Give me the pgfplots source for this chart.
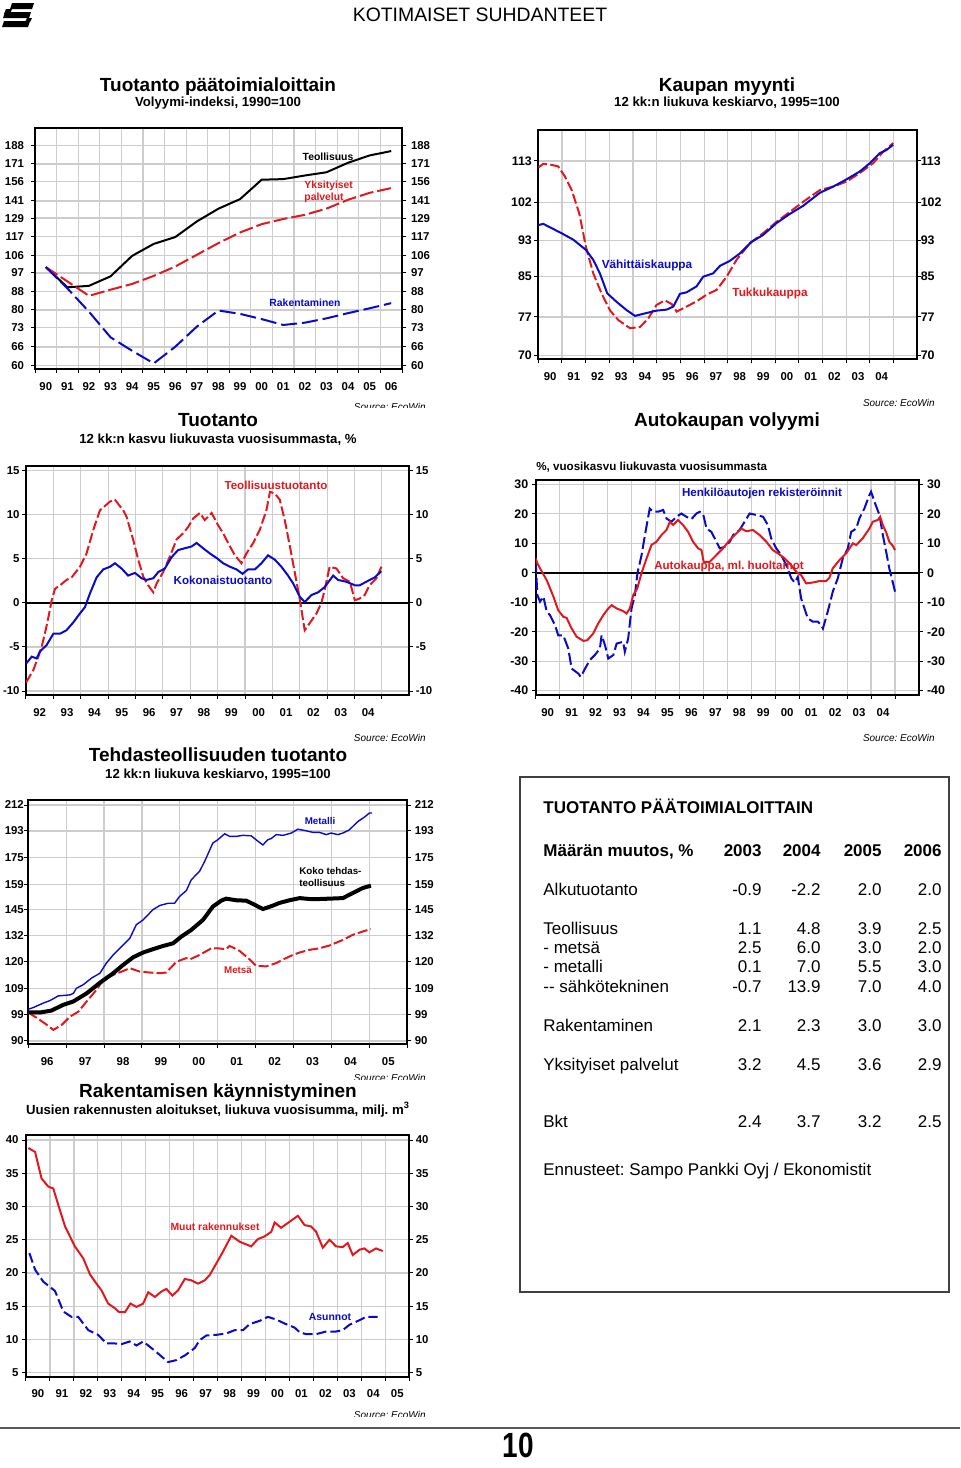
\documentclass[border=0pt]{standalone}
\usepackage{fontspec}
\setmainfont{Liberation Sans}
\usepackage{pgfplots}
\pgfplotsset{compat=1.18}
\frenchspacing
\definecolor{cred}{RGB}{225,25,30}
\definecolor{cblue}{RGB}{10,10,200}
\definecolor{gridc}{RGB}{205,205,205}
\newcommand{\tlab}{\bfseries\fontsize{5.7}{6}\selectfont}
\pgfplotsset{
 base/.style={scale only axis, anchor=south west, /pgf/number format/assume math mode=true,
   tick align=outside, major tick length=2pt, tick style={black, line width=0.5pt},
   ticklabel style={font=\tlab}, minor tick num=0, no markers},
 panel/.style={base, axis line style={line width=1pt}, grid=major,
   major grid style={gridc, line width=0.6pt}, x tick label as interval,
   ytick pos=left, xtick pos=bottom, xticklabel style={yshift=-1pt}},
 rpanel/.style={base, axis x line=none, axis y line*=right, axis line style={draw=none}},
 p1/.style={width=183.5pt, height=120.5pt, at={(17.5pt,-184.5pt)}, xmin=1989.5, xmax=2006.5,
   ymin=58.86, ymax=206.1,
   ytick={60,66,73,80,88,97,106,117,129,141,156,171,188},
   yticklabels={60,66,73,80,88,97,106,117,129,141,156,171,188},
   xtick={1989.5,1990.5,...,2006.5},
   xticklabels={90,91,92,93,94,95,96,97,98,99,00,01,02,03,04,05,06}},
 p2/.style={width=189.5pt, height=114.65pt, at={(269.15pt,-179.65pt)}, xmin=1990, xmax=2006,
   ymin=69.38, ymax=121.95,
   ytick={70,77,85,93,102,113}, yticklabels={70,77,85,93,102,113},
   yticklabel style={font=\bfseries\fontsize{6.2}{7}\selectfont},
   xtick={1990,...,2005}, xticklabels={90,91,92,93,94,95,96,97,98,99,00,01,02,03,04}},
 p3/.style={width=191.65pt, height=114.5pt, at={(13pt,-347.5pt)}, xmin=1992, xmax=2006,
   ymin=-10.45, ymax=15.53, ytick={-10,-5,0,5,10,15}, yticklabels={-10,-5,0,5,10,15},
   xtick={1992,...,2005}, xticklabels={92,93,94,95,96,97,98,99,00,01,02,03,04}},
 p4/.style={width=191.65pt, height=107.5pt, at={(267.85pt,-347.5pt)}, xmin=1990, xmax=2006,
   ymin=-41.46, ymax=31.46, ytick={-40,-30,-20,-10,0,10,20,30}, yticklabels={-40,-30,-20,-10,0,10,20,30},
   yticklabel style={font=\bfseries\fontsize{6.2}{7}\selectfont},
   xtick={1990,...,2005}, xticklabels={90,91,92,93,94,95,96,97,98,99,00,01,02,03,04}},
 p5/.style={width=189.5pt, height=122pt, at={(14.15pt,-522pt)}, xmin=1996, xmax=2006,
   ymin=89.02, ymax=215.9,
   ytick={90,99,109,120,132,145,159,175,193,212}, yticklabels={90,99,109,120,132,145,159,175,193,212},
   xtick={1996,...,2006}, xticklabels={96,97,98,99,00,01,02,03,04,05}},
 p6/.style={width=191.65pt, height=120.85pt, at={(13pt,-688.35pt)}, xmin=1990, xmax=2006,
   ymin=4.4, ymax=40.75, ytick={5,10,15,20,25,30,35,40}, yticklabels={5,10,15,20,25,30,35,40},
   xtick={1990,...,2006}, xticklabels={90,91,92,93,94,95,96,97,98,99,00,01,02,03,04,05}},
 rdash/.style={cred, line width=1pt, dash pattern=on 5pt off 1.6pt},
 bdash/.style={cblue, line width=1pt, dash pattern=on 6pt off 2pt},
 rsolid/.style={cred, line width=1pt},
 bsolid/.style={cblue, line width=1pt},
}
\begin{document}
\begin{tikzpicture}
\useasboundingbox (0,0) rectangle (480pt,-734pt);

% ---------------- Panel 1
\begin{axis}[ymode=log, panel, p1]
\addplot[black, line width=1pt] coordinates {(1990,100) (1991,90) (1992,90.7) (1993,95.3) (1994,106) (1995,112.8) (1996,116.9) (1997,126.8) (1998,135.5) (1999,142.4) (2000,157.5) (2001,158) (2002,161) (2003,163.7) (2004,172) (2005,178.7) (2006,182.8)};
\addplot[cred, line width=1pt, dash pattern=on 7pt off 2pt] coordinates {(1990,100) (1991,92.8) (1992,86.1) (1993,88.9) (1994,91.6) (1995,95.5) (1996,100.3) (1997,106.6) (1998,113.3) (1999,119.7) (2000,125) (2001,128.4) (2002,131.2) (2003,135.5) (2004,141.9) (2005,147.1) (2006,150.8)};
\addplot[cblue, line width=1pt, dash pattern=on 8pt off 2.5pt] coordinates {(1990,100) (1991,89.5) (1992,79.3) (1993,69.4) (1994,64.7) (1995,60.6) (1996,66.1) (1997,73.4) (1998,79.8) (1999,78.4) (2000,76.3) (2001,74) (2002,74.9) (2003,76.6) (2004,78.7) (2005,80.7) (2006,82.9)};
\end{axis}
\begin{axis}[ymode=log, rpanel, p1, yticklabel style={xshift=-1pt}]\addplot[draw=none] coordinates {(2000,100)};\end{axis}

% ---------------- Panel 2
\begin{axis}[ymode=log, panel, p2, yticklabel style={xshift=2.3pt}]
\addplot[rdash] coordinates {(1990.00,111.2) (1990.21,112.2) (1990.49,112.0) (1990.84,111.5) (1991.13,108.7) (1991.41,105.2) (1991.73,99.3) (1992.01,91.5) (1992.32,85.7) (1992.67,81.6) (1993.02,78.3) (1993.38,76.4) (1993.87,74.9) (1994.29,75.1) (1994.64,76.7) (1994.99,79.3) (1995.34,80.2) (1995.63,79.5) (1995.84,78.0) (1996.26,79.0) (1996.68,80.0) (1997.10,81.3) (1997.53,82.3) (1997.95,85.0) (1998.37,88.6) (1998.93,92.3) (1999.49,94.6) (2000.06,97.3) (2000.62,99.7) (2001.18,102.2) (2001.89,105.2) (2002.45,106.1) (2003.01,107.4) (2003.57,109.7) (2004.14,112.4) (2004.56,115.6) (2004.98,118.1)};
\addplot[bsolid] coordinates {(1990.00,96.5) (1990.21,96.8) (1990.98,94.6) (1991.48,93.1) (1992.01,90.8) (1992.32,88.6) (1992.60,85.7) (1992.91,81.6) (1993.31,79.9) (1993.73,78.3) (1994.08,77.2) (1994.43,77.6) (1994.99,78.2) (1995.42,78.4) (1995.70,79.0) (1995.98,81.5) (1996.26,81.8) (1996.68,83.0) (1996.96,85.0) (1997.38,85.7) (1997.67,87.3) (1998.09,88.4) (1998.51,90.0) (1999.00,92.6) (1999.49,94.2) (2000.06,97.0) (2000.62,99.2) (2001.18,101.2) (2001.89,104.5) (2002.45,106.1) (2003.01,108.0) (2003.57,110.1) (2004.00,112.4) (2004.42,115.2) (2004.70,116.1) (2004.98,117.6)};
\end{axis}
\begin{axis}[ymode=log, rpanel, p2, yticklabel style={xshift=-3.8pt}]\addplot[draw=none] coordinates {(2000,100)};\end{axis}

% ---------------- Panel 3
\begin{axis}[panel, p3, yticklabel style={xshift=2.3pt}]
\addplot[black, line width=1pt] coordinates {(1992,0) (2006,0)};
\addplot[rdash] coordinates {(1992.00,-9.05) (1992.27,-7.6) (1992.45,-6.1) (1992.57,-5.0) (1992.69,-3.5) (1992.82,-1.6) (1992.94,0.3) (1993.06,1.6) (1993.24,2.0) (1993.48,2.6) (1993.67,2.9) (1993.97,4.1) (1994.21,5.6) (1994.46,8.3) (1994.70,10.5) (1995.07,11.5) (1995.25,11.7) (1995.55,10.5) (1995.67,9.8) (1995.92,7.1) (1996.10,4.9) (1996.28,3.0) (1996.46,2.0) (1996.65,1.2) (1996.77,2.2) (1997.01,3.5) (1997.26,5.3) (1997.50,7.2) (1997.74,7.9) (1997.92,8.6) (1998.11,9.6) (1998.35,10.2) (1998.53,9.4) (1998.78,10.2) (1999.02,8.8) (1999.20,7.9) (1999.45,6.4) (1999.63,5.4) (1999.87,4.5) (2000.05,5.6) (2000.30,6.8) (2000.54,8.3) (2000.78,10.5) (2000.91,12.6) (2001.09,12.4) (2001.27,11.7) (2001.45,9.4) (2001.64,6.4) (2001.82,3.4) (2002.00,0.4) (2002.18,-3.1) (2002.36,-2.3) (2002.61,-1.2) (2002.79,0.0) (2002.91,1.5) (2003.09,4.1) (2003.34,3.9) (2003.58,2.8) (2003.83,2.4) (2004.01,0.3) (2004.19,0.5) (2004.37,0.9) (2004.55,2.0) (2004.80,2.8) (2004.98,4.1)};
\addplot[bsolid] coordinates {(1992.00,-6.9) (1992.21,-6.1) (1992.39,-6.3) (1992.51,-5.5) (1992.75,-4.8) (1993.00,-3.5) (1993.24,-3.5) (1993.48,-3.1) (1993.73,-2.2) (1993.97,-1.2) (1994.15,-0.5) (1994.34,1.1) (1994.58,2.9) (1994.82,3.8) (1995.07,4.1) (1995.25,4.5) (1995.49,3.9) (1995.73,3.1) (1995.98,3.4) (1996.22,2.8) (1996.40,2.6) (1996.65,2.8) (1996.83,3.5) (1997.07,3.9) (1997.32,5.2) (1997.56,6.0) (1997.80,6.2) (1998.05,6.4) (1998.23,6.8) (1998.47,6.2) (1998.72,5.6) (1998.96,5.1) (1999.20,4.5) (1999.45,4.1) (1999.69,3.8) (1999.91,3.3) (2000.11,3.8) (2000.36,3.8) (2000.60,4.5) (2000.84,5.4) (2001.09,4.9) (2001.33,4.1) (2001.57,3.1) (2001.76,2.2) (2002.00,0.7) (2002.18,0.1) (2002.43,0.9) (2002.67,1.2) (2002.91,1.8) (2003.22,3.1) (2003.40,2.6) (2003.70,2.4) (2004.01,2.0) (2004.19,2.0) (2004.43,2.4) (2004.74,2.9) (2004.98,3.6)};
\end{axis}
\begin{axis}[rpanel, p3, yticklabel style={xshift=-2.3pt}]\addplot[draw=none] coordinates {(2000,0)};\end{axis}

% ---------------- Panel 4
\begin{axis}[panel, p4, yticklabel style={xshift=1.8pt}]
\addplot[black, line width=1pt] coordinates {(1990,0) (2006,0)};
\addplot[bdash] coordinates {(1990.00,3.7) (1990.07,-7.6) (1990.18,-9.8) (1990.32,-8.1) (1990.46,-13.2) (1990.60,-14.4) (1990.81,-17.8) (1990.94,-21.2) (1991.15,-21.2) (1991.36,-25.7) (1991.50,-32.5) (1991.78,-34.2) (1991.88,-35.3) (1992.06,-32.5) (1992.26,-29.6) (1992.47,-27.9) (1992.68,-25.7) (1992.75,-21.2) (1992.89,-24.5) (1993.03,-29.1) (1993.24,-27.9) (1993.38,-24.0) (1993.65,-23.4) (1993.72,-26.8) (1993.86,-22.3) (1994.00,-12.1) (1994.14,-7.6) (1994.25,0) (1994.42,6.0) (1994.56,12.8) (1994.76,21.8) (1994.90,20.7) (1995.11,20.7) (1995.32,21.3) (1995.46,18.4) (1995.67,17.3) (1995.88,19.0) (1996.08,20.1) (1996.29,19.0) (1996.50,18.2) (1996.71,20.1) (1996.85,20.7) (1996.99,19.9) (1997.13,15.0) (1997.33,13.9) (1997.47,11.7) (1997.68,8.3) (1997.89,8.8) (1998.10,10.5) (1998.24,12.8) (1998.51,14.5) (1998.72,17.3) (1998.93,20.1) (1999.21,19.6) (1999.49,19.0) (1999.69,16.2) (1999.83,11.7) (2000.04,8.3) (2000.25,6.0) (2000.46,2.6) (2000.67,-1.9) (2000.81,-3.3) (2000.94,-1.4) (2001.08,-8.7) (2001.22,-12.1) (2001.36,-15.5) (2001.57,-16.6) (2001.78,-16.6) (2001.92,-17.8) (2001.99,-18.9) (2002.19,-13.2) (2002.40,-6.4) (2002.61,-1.9) (2002.82,4.9) (2003.03,8.3) (2003.17,13.9) (2003.38,15.0) (2003.51,18.4) (2003.72,21.8) (2003.93,26.4) (2004.00,27.5) (2004.14,24.1) (2004.35,19.6) (2004.49,12.8) (2004.63,7.1) (2004.76,1.5) (2004.90,-3.1) (2005.00,-6.4)};
\addplot[rsolid] coordinates {(1990.00,4.9) (1990.07,3.2) (1990.18,1.5) (1990.46,-2.5) (1990.74,-8.1) (1990.94,-12.7) (1991.15,-14.9) (1991.29,-15.3) (1991.50,-18.9) (1991.71,-21.7) (1991.99,-23.1) (1992.15,-22.9) (1992.40,-20.6) (1992.61,-17.2) (1992.82,-14.4) (1993.03,-12.1) (1993.17,-11.0) (1993.38,-12.1) (1993.65,-13.0) (1993.79,-13.8) (1993.93,-12.1) (1994.07,-7.6) (1994.24,-5.3) (1994.42,0) (1994.63,4.9) (1994.83,9.4) (1995.04,10.5) (1995.25,12.8) (1995.46,14.5) (1995.60,17.3) (1995.74,16.2) (1995.94,17.9) (1996.15,16.2) (1996.36,13.9) (1996.57,10.5) (1996.78,8.3) (1996.92,7.7) (1997.01,3.7) (1997.26,3.7) (1997.54,6.0) (1997.82,8.3) (1998.10,11.1) (1998.31,12.8) (1998.58,15.0) (1998.79,14.1) (1999.07,14.5) (1999.35,12.8) (1999.63,10.5) (1999.90,7.7) (2000.18,6.2) (2000.39,4.9) (2000.60,3.2) (2000.88,0.3) (2001.08,-0.8) (2001.29,-3.6) (2001.57,-3.3) (2001.85,-2.8) (2002.13,-2.8) (2002.26,-1.7) (2002.40,1.5) (2002.68,4.3) (2002.96,6.6) (2003.24,10.0) (2003.38,9.4) (2003.65,11.7) (2003.93,15.0) (2004.07,17.3) (2004.28,17.9) (2004.38,19.0) (2004.49,16.2) (2004.63,13.7) (2004.76,10.5) (2004.90,9.2) (2005.00,7.7)};
\end{axis}
\begin{axis}[rpanel, p4, yticklabel style={xshift=-1.5pt}]\addplot[draw=none] coordinates {(2000,0)};\end{axis}

% ---------------- Panel 5
\begin{axis}[ymode=log, panel, p5, yticklabel style={xshift=3.3pt}]
\addplot[rdash] coordinates {(1996.00,99.8) (1996.22,97.9) (1996.44,95.9) (1996.66,93.7) (1996.88,95.4) (1997.10,98.3) (1997.32,100.1) (1997.54,103.9) (1997.80,108.4) (1997.98,112.4) (1998.24,114.4) (1998.46,115.8) (1998.68,117.2) (1998.94,115.8) (1999.20,115.4) (1999.47,115.1) (1999.64,115.4) (1999.91,120) (2000.17,121.6) (2000.26,121) (2000.52,123) (2000.83,126) (2001.00,126) (2001.22,125.6) (2001.31,127.1) (2001.57,124.9) (2001.84,121) (2002.01,118.2) (2002.28,118) (2002.54,119.4) (2002.80,121.6) (2002.98,123) (2003.16,124.1) (2003.42,125.3) (2003.68,126) (2003.95,127.3) (2004.30,129.9) (2004.56,132.3) (2004.82,133.9) (2005.04,135.1)};
\addplot[cblue, line width=0.7pt] coordinates {(1996.00,101) (1996.13,101.6) (1996.40,103.3) (1996.57,104.2) (1996.79,106.0) (1997.10,106.4) (1997.19,107) (1997.27,109) (1997.45,110.4) (1997.67,113.1) (1997.89,115.1) (1998.06,119.4) (1998.24,123) (1998.50,127.5) (1998.68,130.7) (1998.85,137.3) (1999.03,139.7) (1999.29,145) (1999.47,147.2) (1999.69,148.4) (1999.86,148.4) (1999.99,152.1) (2000.17,155.4) (2000.30,161.6) (2000.52,166.7) (2000.65,172.6) (2000.87,184.7) (2001.00,186.9) (2001.18,191) (2001.31,189.2) (2001.49,189.2) (2001.66,189.9) (2001.88,189.6) (2002.01,186.9) (2002.19,183.4) (2002.32,186.9) (2002.41,187.7) (2002.54,190.4) (2002.72,189.9) (2002.94,191.5) (2003.11,194.2) (2003.29,193.3) (2003.51,192) (2003.68,192) (2003.86,190.4) (2003.99,191.5) (2004.17,190.4) (2004.30,191.5) (2004.47,193.7) (2004.69,199.6) (2004.87,202.9) (2005.00,205.9) (2005.07,205.9)};
\addplot[black, line width=2pt] coordinates {(1996.00,99.9) (1996.31,99.8) (1996.61,100.5) (1996.92,102.6) (1997.19,103.9) (1997.54,107) (1997.89,111.2) (1998.24,115.1) (1998.50,118.6) (1998.77,122) (1999.03,124.1) (1999.29,125.6) (1999.56,127.1) (1999.82,128.3) (2000.04,131.5) (2000.30,134.7) (2000.61,139.7) (2000.87,146.6) (2001.09,149.8) (2001.22,150.9) (2001.49,150) (2001.75,149.8) (2001.97,147.6) (2002.19,145.3) (2002.45,147.1) (2002.63,148.6) (2002.89,150) (2003.16,151.2) (2003.42,150.7) (2003.68,150.7) (2003.95,150.9) (2004.30,151.2) (2004.56,154) (2004.82,156.8) (2005.04,158.2)};
\end{axis}
\begin{axis}[ymode=log, rpanel, p5, yticklabel style={xshift=-1.8pt}]\addplot[draw=none] coordinates {(2000,100)};\end{axis}

% ---------------- Panel 6
\begin{axis}[panel, p6, yticklabel style={xshift=1.8pt}]
\addplot[rsolid] coordinates {(1990.10,38.8) (1990.38,38.2) (1990.65,34.2) (1990.93,33.0) (1991.14,32.7) (1991.35,30.2) (1991.63,27.0) (1992.04,24.0) (1992.39,22.2) (1992.67,19.8) (1992.94,18.4) (1993.15,17.4) (1993.43,15.4) (1993.71,14.7) (1993.89,14.1) (1994.13,14.1) (1994.36,15.4) (1994.61,14.9) (1994.89,15.4) (1995.10,17.1) (1995.38,16.4) (1995.65,17.2) (1995.86,17.6) (1996.11,16.6) (1996.35,17.4) (1996.63,19.1) (1996.90,18.9) (1997.18,18.4) (1997.46,18.9) (1997.67,19.7) (1997.94,21.4) (1998.22,23.2) (1998.57,25.6) (1998.92,24.7) (1999.40,24.0) (1999.68,25.1) (1999.96,25.5) (2000.24,26.2) (2000.38,27.6) (2000.65,26.8) (2001.00,27.7) (2001.35,28.6) (2001.63,27.2) (2001.90,27.0) (2002.11,26.2) (2002.39,23.8) (2002.67,25.0) (2002.94,24.0) (2003.22,23.9) (2003.43,24.5) (2003.64,22.7) (2003.92,23.5) (2004.13,23.7) (2004.33,23.1) (2004.61,23.7) (2004.89,23.3)};
\addplot[cblue, line width=1pt, dash pattern=on 5pt off 2pt] coordinates {(1990.14,23.0) (1990.38,20.5) (1990.72,18.7) (1991.07,17.7) (1991.21,17.3) (1991.56,14.2) (1991.90,13.4) (1992.18,13.4) (1992.60,11.4) (1993.01,10.7) (1993.36,9.4) (1993.71,9.4) (1993.99,9.3) (1994.33,9.7) (1994.61,9.1) (1994.89,9.7) (1995.17,8.9) (1995.51,7.9) (1995.93,6.6) (1996.28,6.9) (1996.63,7.6) (1997.04,8.7) (1997.25,9.9) (1997.53,10.6) (1997.94,10.7) (1998.36,10.9) (1998.71,11.4) (1999.06,11.4) (1999.33,12.3) (1999.75,12.8) (2000.10,13.4) (2000.44,13.0) (2000.86,12.3) (2001.21,11.8) (2001.42,11.1) (2001.69,10.8) (2002.11,10.8) (2002.53,11.2) (2002.94,11.2) (2003.22,11.4) (2003.50,12.2) (2003.92,12.9) (2004.19,13.4) (2004.68,13.4)};
\end{axis}
\begin{axis}[rpanel, p6, yticklabel style={xshift=-2.3pt}]\addplot[draw=none] coordinates {(2000,10)};\end{axis}

% ---------------- Texts (pixel coordinates)
\begin{scope}[x=0.5pt, y=-0.5pt]
% logo
\fill[black] (12,3) -- (34,3) -- (32,9) -- (10,9) -- cycle;
\fill[black] (6,9) -- (12,9) -- (10,14) -- (4,14) -- cycle;
\fill[black] (5,12) -- (31,12) -- (29,18) -- (3,18) -- cycle;
\fill[black] (27,18) -- (32,18) -- (30,22) -- (25,22) -- cycle;
\fill[black] (4,21) -- (30,21) -- (28,27) -- (2,27) -- cycle;

\node[anchor=base, inner sep=0, font=\fontsize{9.7}{11}\selectfont] at (480,21) {KOTIMAISET SUHDANTEET};

\node[anchor=base, inner sep=0, font=\bfseries\fontsize{9.5}{11}\selectfont] at (218,91) {Tuotanto päätoimialoittain};
\node[anchor=base, inner sep=0, font=\bfseries\fontsize{6.6}{8}\selectfont] at (218,106.7) {Volyymi-indeksi, 1990=100};
\node[anchor=base, inner sep=0, font=\bfseries\fontsize{9.5}{11}\selectfont] at (727,91) {Kaupan myynti};
\node[anchor=base, inner sep=0, font=\bfseries\fontsize{6.6}{8}\selectfont] at (727,106.7) {12 kk:n liukuva keskiarvo, 1995=100};

\node[anchor=base, inner sep=0, font=\bfseries\fontsize{9.5}{11}\selectfont] at (218,426) {Tuotanto};
\node[anchor=base, inner sep=0, font=\bfseries\fontsize{6.6}{8}\selectfont] at (218,443.3) {12 kk:n kasvu liukuvasta vuosisummasta, \%};
\node[anchor=base, inner sep=0, font=\bfseries\fontsize{9.5}{11}\selectfont] at (727,426.7) {Autokaupan volyymi};
\node[anchor=base west, inner sep=0, font=\bfseries\fontsize{5.8}{7}\selectfont] at (536,470) {\%, vuosikasvu liukuvasta vuosisummasta};

\node[anchor=base, inner sep=0, font=\bfseries\fontsize{9.5}{11}\selectfont] at (218,761.7) {Tehdasteollisuuden tuotanto};
\node[anchor=base, inner sep=0, font=\bfseries\fontsize{6.6}{8}\selectfont] at (218,778.3) {12 kk:n liukuva keskiarvo, 1995=100};
\node[anchor=base, inner sep=0, font=\bfseries\fontsize{9.5}{11}\selectfont] at (218,1097.7) {Rakentamisen käynnistyminen};
\node[anchor=base, inner sep=0, font=\bfseries\fontsize{6.6}{8}\selectfont] at (218,1114.3) {Uusien rakennusten aloitukset, liukuva vuosisumma, milj. m\textsuperscript{3}};

% sources
\node[anchor=base east, inner sep=0, font=\itshape\fontsize{5}{6}\selectfont] at (935,406) {Source: EcoWin};
\node[anchor=base east, inner sep=0, font=\itshape\fontsize{5}{6}\selectfont] at (935,741) {Source: EcoWin};
\node[anchor=base east, inner sep=0, font=\itshape\fontsize{5}{6}\selectfont] at (426,741) {Source: EcoWin};
\begin{scope}\clip (340,395) rectangle (440,407.5);
\node[anchor=base east, inner sep=0, font=\itshape\fontsize{5}{6}\selectfont] at (426,410) {Source: EcoWin};\end{scope}
\begin{scope}\clip (340,1065) rectangle (440,1079);
\node[anchor=base east, inner sep=0, font=\itshape\fontsize{5}{6}\selectfont] at (426,1081) {Source: EcoWin};\end{scope}
\begin{scope}\clip (340,1400) rectangle (440,1416);
\node[anchor=base east, inner sep=0, font=\itshape\fontsize{5}{6}\selectfont] at (426,1418) {Source: EcoWin};\end{scope}

% series labels
\node[font=\bfseries\fontsize{5.2}{6}\selectfont, black] at (328,157) {Teollisuus};
\node[anchor=west, align=left, font=\bfseries\fontsize{5.2}{6}\selectfont, text=cred, inner sep=0] at (304,192) {Yksityiset\\palvelut};
\node[font=\bfseries\fontsize{5.2}{6}\selectfont, text=cblue] at (305,303) {Rakentaminen};
\node[font=\bfseries\fontsize{5.9}{7}\selectfont, text=cblue] at (647,265) {Vähittäiskauppa};
\node[font=\bfseries\fontsize{5.9}{7}\selectfont, text=cred] at (770,293) {Tukkukauppa};
\node[font=\bfseries\fontsize{5.8}{7}\selectfont, text=cred] at (276,485) {Teollisuustuotanto};
\node[font=\bfseries\fontsize{5.8}{7}\selectfont, text=cblue] at (223,580) {Kokonaistuotanto};
\node[font=\bfseries\fontsize{5.8}{7}\selectfont, text=cblue] at (762,493) {Henkilöautojen rekisteröinnit};
\node[font=\bfseries\fontsize{5.8}{7}\selectfont, text=cred] at (729,566) {Autokauppa, ml. huoltamot};
\node[font=\bfseries\fontsize{4.9}{6}\selectfont, text=cblue] at (320,821) {Metalli};
\node[anchor=west, align=left, inner sep=0, font=\bfseries\fontsize{4.9}{5.6}\selectfont, black] at (299,877) {Koko tehdas-\\teollisuus};
\node[font=\bfseries\fontsize{4.9}{6}\selectfont, text=cred] at (238,970) {Metsä};
\node[font=\bfseries\fontsize{5.2}{6}\selectfont, text=cred] at (215,1227) {Muut rakennukset};
\node[font=\bfseries\fontsize{5.2}{6}\selectfont, text=cblue] at (330,1317) {Asunnot};

% table box
\draw[black!75, line width=0.7pt] (520,777) rectangle (949,1292);
\begin{scope}[every node/.style={inner sep=0, font=\fontsize{8.5}{10}\selectfont}]
\node[anchor=base west, font=\bfseries\fontsize{8.5}{10}\selectfont] at (543,813) {TUOTANTO PÄÄTOIMIALOITTAIN};
\node[anchor=base west, font=\bfseries\fontsize{8.5}{10}\selectfont] at (543,856.7) {Määrän muutos, \%};
\node[anchor=base east, font=\bfseries\fontsize{8.5}{10}\selectfont] at (762,856.7) {2003};
\node[anchor=base east, font=\bfseries\fontsize{8.5}{10}\selectfont] at (821,856.7) {2004};
\node[anchor=base east, font=\bfseries\fontsize{8.5}{10}\selectfont] at (882,856.7) {2005};
\node[anchor=base east, font=\bfseries\fontsize{8.5}{10}\selectfont] at (942,856.7) {2006};
\foreach \yy/\lab/\a/\b/\c/\d in {
  895.7/Alkutuotanto/-0.9/-2.2/2.0/2.0,
  934.3/Teollisuus/1.1/4.8/3.9/2.5,
  953.3/- metsä/2.5/6.0/3.0/2.0,
  972.7/- metalli/0.1/7.0/5.5/3.0,
  992.3/-{}- sähkötekninen/-0.7/13.9/7.0/4.0,
  1031/Rakentaminen/2.1/2.3/3.0/3.0,
  1070/Yksityiset palvelut/3.2/4.5/3.6/2.9,
  1127.3/Bkt/2.4/3.7/3.2/2.5}{
  \node[anchor=base west] at (543,\yy) {\lab};
  \node[anchor=base east] at (762,\yy) {\a};
  \node[anchor=base east] at (821,\yy) {\b};
  \node[anchor=base east] at (882,\yy) {\c};
  \node[anchor=base east] at (942,\yy) {\d};
}
\node[anchor=base west] at (543,1175) {Ennusteet: Sampo Pankki Oyj / Ekonomistit};
\end{scope}

% footer
\draw[black!65, line width=1pt] (0,1428) -- (960,1428);
\node[anchor=base, inner sep=0, yscale=1.25, font=\bfseries\fontsize{14}{15}\selectfont] at (518,1457) {10};
\end{scope}
\end{tikzpicture}
\end{document}
